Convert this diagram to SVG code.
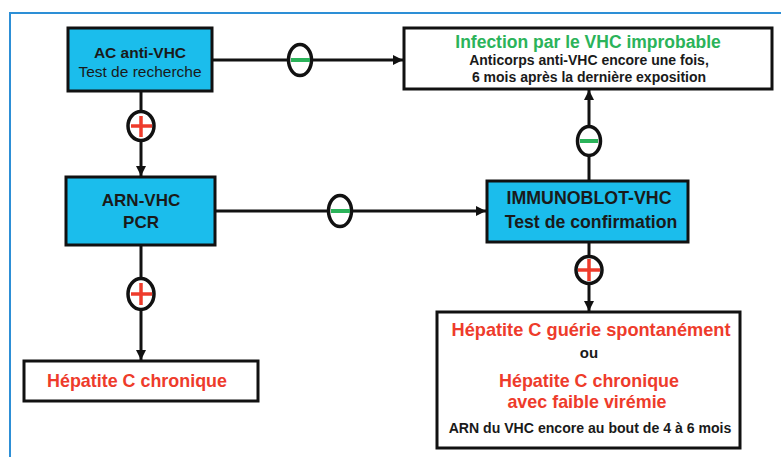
<svg xmlns="http://www.w3.org/2000/svg" width="781" height="457" viewBox="0 0 781 457">
<defs>
<style>
.box{fill:#1BBDEC;stroke:#111;stroke-width:3}
.wbox{fill:#fff;stroke:#111;stroke-width:3}
.ln{stroke:#111;stroke-width:3;fill:none}
.sym{fill:#fff;stroke:#111;stroke-width:3.5}
.minus{stroke:#2BB35A;stroke-width:4}
.plus{stroke:#EE3B2B;stroke-width:3.5}
text{font-family:"Liberation Sans",Arial,sans-serif;text-anchor:middle;fill:#1a1a1a}
.b{font-weight:bold}
.red{fill:#EE3B2B;font-weight:bold}
.green{fill:#2BB35A;font-weight:bold}
</style>
<marker id="ah" markerUnits="userSpaceOnUse" markerWidth="12" markerHeight="12" refX="10" refY="5" orient="auto">
<path d="M0,0 L10,5 L0,10 Z" fill="#111"/>
</marker>
</defs>
<rect width="781" height="457" fill="#fff"/>
<path d="M10,457 V13 H781" fill="none" stroke="#2D8FD6" stroke-width="2"/>

<g id="connectors">
<line class="ln" x1="212" y1="60" x2="403" y2="60" marker-end="url(#ah)"/>
<line class="ln" x1="141" y1="91" x2="141" y2="176" marker-end="url(#ah)"/>
<line class="ln" x1="215" y1="211" x2="486" y2="211" marker-end="url(#ah)"/>
<line class="ln" x1="589" y1="181" x2="589" y2="90" marker-end="url(#ah)"/>
<line class="ln" x1="589" y1="242" x2="589" y2="311" marker-end="url(#ah)"/>
<line class="ln" x1="141" y1="245" x2="141" y2="360" marker-end="url(#ah)"/>
<g id="sym1"><ellipse class="sym" cx="300" cy="60" rx="11.5" ry="15.5"/><line class="minus" x1="291" y1="60" x2="310" y2="60"/></g>
<g id="sym2"><ellipse class="sym" cx="340" cy="211" rx="11.5" ry="15.5"/><line class="minus" x1="331" y1="211" x2="350" y2="211"/></g>
<g id="sym3"><ellipse class="sym" cx="589" cy="141" rx="11.5" ry="14.5"/><line class="minus" x1="580" y1="141" x2="598" y2="141"/></g>
<g id="sym4"><ellipse class="sym" cx="141" cy="126" rx="13" ry="14.5"/><line class="plus" x1="131" y1="126" x2="152" y2="126"/><line class="plus" x1="141" y1="116" x2="141" y2="137"/></g>
<g id="sym5"><ellipse class="sym" cx="141" cy="294" rx="13" ry="15.5"/><line class="plus" x1="131" y1="294" x2="152" y2="294"/><line class="plus" x1="141" y1="283" x2="141" y2="305"/></g>
<g id="sym6"><ellipse class="sym" cx="589" cy="270" rx="13" ry="13.5"/><line class="plus" x1="578" y1="270" x2="600" y2="270"/><line class="plus" x1="589" y1="259" x2="589" y2="281"/></g>
</g>

<g id="ac">
<rect class="box" x="68" y="28" width="144" height="63"/>
<text class="b" x="140" y="58" font-size="15.5">AC anti-VHC</text>
<text x="140" y="77" font-size="15.5">Test de recherche</text>
</g>

<g id="arn">
<rect class="box" x="66" y="177" width="149" height="68"/>
<text class="b" x="141" y="206" font-size="17">ARN-VHC</text>
<text class="b" x="141" y="228" font-size="17">PCR</text>
</g>

<g id="immunoblot">
<rect class="box" x="487" y="181" width="201" height="61"/>
<text class="b" x="589" y="204" font-size="17.8">IMMUNOBLOT-VHC</text>
<text class="b" x="591" y="228" font-size="17.7">Test de confirmation</text>
</g>

<g id="infection">
<rect class="wbox" x="404" y="28" width="368" height="61"/>
<text class="green" x="588" y="47.5" font-size="17.5">Infection par le VHC improbable</text>
<text class="b" x="589" y="65" font-size="14">Anticorps anti-VHC encore une fois,</text>
<text class="b" x="589" y="81.5" font-size="14">6 mois après la dernière exposition</text>
</g>

<g id="hepatite">
<rect class="wbox" x="24" y="361" width="234" height="40"/>
<text class="red" x="137" y="387" font-size="17.9">Hépatite C chronique</text>
</g>

<g id="resultat">
<rect class="wbox" x="437" y="312" width="303" height="136"/>
<text class="red" x="591" y="336" font-size="18.2">Hépatite C guérie spontanément</text>
<text class="b" x="589" y="358" font-size="15">ou</text>
<text class="red" x="589" y="387" font-size="17.9">Hépatite C chronique</text>
<text class="red" x="587" y="408" font-size="17.9">avec faible virémie</text>
<text class="b" x="590" y="433" font-size="14.1">ARN du VHC encore au bout de 4 à 6 mois</text>
</g>
</svg>
